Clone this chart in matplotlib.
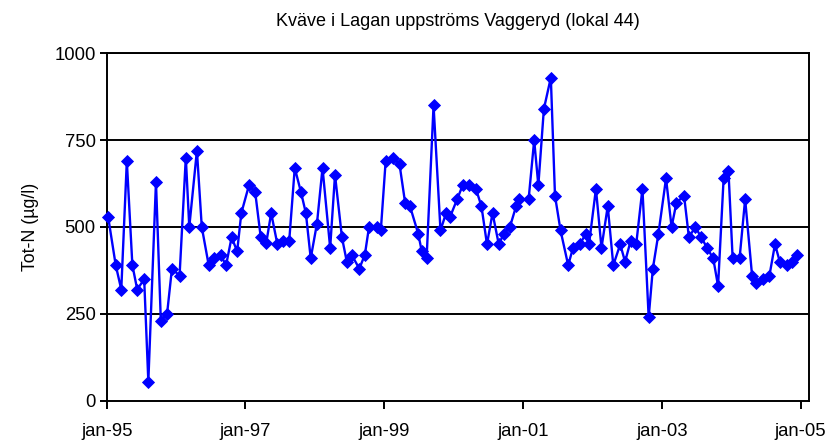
import matplotlib
matplotlib.use("Agg")
import matplotlib.pyplot as plt
import numpy as np

plt.rcParams['font.family'] = ['Liberation Sans', 'DejaVu Sans']

title = "Kväve i Lagan uppströms Vaggeryd (lokal 44)"
ylabel = "Tot-N (µg/l)"

# sample time (decimal years) and total nitrogen (µg/l)
sample_time = [
    1995.02, 1995.13, 1995.21, 1995.29, 1995.37, 1995.44, 1995.54, 1995.60, 1995.71, 1995.78,
    1995.87, 1995.94, 1996.05, 1996.14, 1996.19, 1996.30, 1996.37, 1996.47, 1996.55, 1996.64,
    1996.72, 1996.80, 1996.88, 1996.94, 1997.05, 1997.14, 1997.22, 1997.30, 1997.37, 1997.46,
    1997.54, 1997.63, 1997.71, 1997.80, 1997.87, 1997.94, 1998.03, 1998.11, 1998.22, 1998.29,
    1998.39, 1998.46, 1998.53, 1998.64, 1998.72, 1998.78, 1998.89, 1998.95, 1999.02, 1999.13,
    1999.22, 1999.30, 1999.37, 1999.49, 1999.54, 1999.61, 1999.71, 1999.81, 1999.89, 1999.95,
    2000.05, 2000.13, 2000.22, 2000.32, 2000.40, 2000.48, 2000.56, 2000.65, 2000.72, 2000.81,
    2000.90, 2000.94, 2001.08, 2001.16, 2001.22, 2001.30, 2001.40, 2001.46, 2001.54, 2001.65,
    2001.72, 2001.82, 2001.90, 2001.95, 2002.05, 2002.13, 2002.22, 2002.30, 2002.40, 2002.47,
    2002.55, 2002.63, 2002.72, 2002.81, 2002.87, 2002.95, 2003.06, 2003.14, 2003.21, 2003.32,
    2003.39, 2003.48, 2003.57, 2003.65, 2003.74, 2003.81, 2003.89, 2003.96, 2004.02, 2004.12,
    2004.20, 2004.30, 2004.36, 2004.46, 2004.55, 2004.63, 2004.70, 2004.80, 2004.88, 2004.95,
]
tot_n = [
    530, 390, 320, 690, 390, 320, 350, 55, 630, 230,
    250, 380, 360, 700, 500, 720, 500, 390, 410, 420,
    390, 470, 430, 540, 620, 600, 470, 455, 540, 450,
    460, 460, 670, 600, 540, 410, 510, 670, 440, 650,
    470, 400, 420, 380, 420, 500, 500, 490, 690, 700,
    680, 570, 560, 480, 430, 410, 850, 490, 540, 530,
    580, 620, 620, 610, 560, 450, 540, 450, 480, 500,
    560, 580, 580, 750, 620, 840, 930, 590, 490, 390,
    440, 450, 480, 450, 610, 440, 560, 390, 450, 400,
    460, 450, 610, 240, 380, 480, 640, 500, 570, 590,
    470, 500, 470, 440, 410, 330, 640, 660, 410, 410,
    580, 360, 340, 350, 360, 450, 400, 390, 400, 420,
]

xtick_years = [1995, 1997, 1999, 2001, 2003, 2005]
xtick_labels = ["jan-95", "jan-97", "jan-99", "jan-01", "jan-03", "jan-05"]
ytick_values = [0, 250, 500, 750, 1000]

fig = plt.figure(figsize=(8.31, 4.43), dpi=100)
ax = fig.add_axes([0.1284, 0.0955, 0.9735 - 0.1284, 0.8797 - 0.0955])

ax.plot(sample_time, tot_n, color='#0000FF', linewidth=1.7, marker='D',
        markersize=5.8, markeredgewidth=0.6, markerfacecolor='#0000FF',
        markeredgecolor='#0000FF', zorder=3, clip_on=False)

ax.set_xlim(1995.0, 2005.12)
ax.set_ylim(0, 1000)
ax.set_xticks(xtick_years)
ax.set_xticklabels(xtick_labels)
ax.set_yticks(ytick_values)
ax.set_yticklabels([str(v) for v in ytick_values])

for v in ytick_values[1:]:
    ax.axhline(v, color='black', linewidth=1.4, zorder=1)

for s in ax.spines.values():
    s.set_color('black')
    s.set_linewidth(1.4)

ax.tick_params(axis='both', direction='out', length=5, width=1.4,
               labelsize=13.3, colors='black', pad=3)
ax.tick_params(axis='x', length=6, pad=10)

ax.set_title(title, fontsize=13, pad=20)
ax.set_ylabel(ylabel, fontsize=12.8, labelpad=11)

fig.savefig("out.png", dpi=100)
